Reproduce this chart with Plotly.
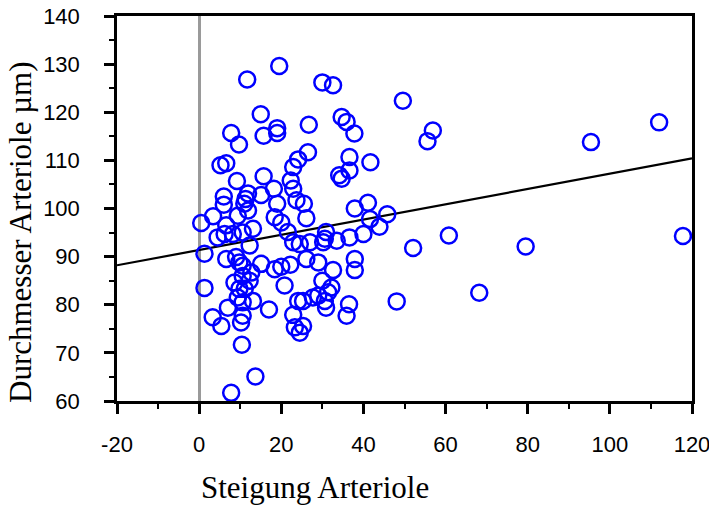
import plotly.graph_objects as go

# Scatter data: Steigung Arteriole (x) vs Durchmesser Arteriole (y)
steigung = [
    19.5, 11.7, 30.0, 32.6, 49.6, 15.0, 34.7, 35.9, 37.8, 26.7,
    19.0, 19.0, 7.8, 9.7, 15.7, 56.9, 55.6, 95.4, 112.0, 26.5,
    24.1, 22.9, 36.6, 41.7, 36.6, 34.1, 34.7, 5.2, 6.6, 9.2,
    15.7, 22.3, 22.9, 18.2, 15.1, 11.9, 11.3, 6.0, 6.0, 11.0,
    11.9, 19.0, 18.4, 23.7, 25.5, 26.1, 37.9, 41.1, 45.8, 41.6,
    43.9, 40.0, 36.6, 33.5, 30.9, 30.6, 30.2, 27.0, 22.9, 24.5,
    21.6, 20.0, 0.5, 3.4, 9.4, 6.6, 13.1, 4.5, 6.2, 8.2,
    12.3, 1.3, 6.6, 9.0, 9.8, 10.6, 15.1, 12.7, 10.6, 12.3,
    8.6, 9.8, 11.1, 1.3, 18.4, 20.0, 22.2, 20.8, 9.4, 10.6,
    13.1, 7.0, 17.0, 3.3, 5.4, 10.2, 10.6, 10.4, 13.7, 7.8,
    24.1, 22.9, 23.3, 24.5, 25.3, 25.3, 26.1, 29.0, 32.6, 37.9,
    37.9, 52.1, 60.8, 79.5, 68.2, 117.8, 30.0, 32.2, 31.4, 29.0,
    30.6, 30.9, 27.7, 36.5, 35.9, 48.1, 10.6,
]
durchmesser = [
    129.6, 126.8, 126.2, 125.6, 122.4, 119.6, 119.0, 118.0, 115.6, 117.4,
    116.7, 115.7, 115.7, 113.3, 115.1, 116.2, 114.0, 113.8, 117.9, 111.7,
    110.2, 108.6, 110.7, 109.6, 107.9, 106.9, 106.2, 109.0, 109.4, 105.7,
    106.7, 105.8, 104.1, 104.1, 102.8, 103.1, 102.0, 102.5, 100.8, 101.0,
    99.6, 101.0, 98.2, 101.7, 101.0, 98.0, 100.0, 101.2, 98.8, 97.8,
    96.2, 94.7, 94.0, 93.3, 95.1, 93.7, 93.0, 93.0, 93.0, 92.6,
    95.1, 97.1, 97.0, 98.4, 98.5, 96.5, 95.8, 94.0, 94.7, 94.7,
    92.3, 90.6, 89.5, 89.9, 88.8, 88.1, 88.5, 86.7, 86.0, 85.0,
    84.6, 83.3, 83.3, 83.5, 87.4, 87.9, 88.3, 84.0, 81.5, 80.5,
    80.8, 79.4, 79.0, 77.4, 75.6, 76.3, 77.7, 71.7, 65.1, 61.7,
    80.8, 77.9, 75.3, 74.2, 75.6, 80.8, 89.5, 88.8, 87.2, 89.5,
    87.2, 91.8, 94.4, 92.1, 82.5, 94.3, 85.0, 83.6, 82.6, 81.9,
    80.8, 79.4, 81.5, 80.1, 77.7, 80.7, 95.0,
]

# Regression line end points
fit_x = [-20, 120]
fit_y = [88.2, 110.4]

x_ticks = [-20, 0, 20, 40, 60, 80, 100, 120]
y_ticks = [60, 70, 80, 90, 100, 110, 120, 130, 140]

fig = go.Figure()
fig.add_trace(go.Scatter(
    x=fit_x, y=fit_y, mode="lines",
    line=dict(color="black", width=2.2), showlegend=False, hoverinfo="skip",
))
fig.add_trace(go.Scatter(
    x=steigung, y=durchmesser, mode="markers",
    marker=dict(symbol="circle-open", size=16, color="#0000ff",
                line=dict(width=2.5, color="#0000ff")),
    showlegend=False,
))

axis_common = dict(
    showgrid=False, showline=True, linecolor="black", linewidth=2.5,
    mirror=True, ticks="outside", ticklen=10, tickwidth=2.5, tickcolor="black",
    ticklabeloverflow="allow", automargin=False,
    tickfont=dict(family="Liberation Sans, Arial, sans-serif", size=22, color="black"),
)

fig.update_xaxes(
    range=[-20, 120], tickvals=x_ticks, ticktext=[str(v) for v in x_ticks],
    zeroline=True, zerolinecolor="#9a9a9a", zerolinewidth=3,
    ticklabelstandoff=12,
    minor=dict(ticks="outside", ticklen=5, tickwidth=2, tickcolor="black", dtick=10),
    **axis_common,
)
fig.update_yaxes(
    range=[60, 140], tickvals=y_ticks, ticktext=[str(v) for v in y_ticks],
    zeroline=False,
    ticklabelstandoff=20,
    minor=dict(ticks="outside", ticklen=5, tickwidth=2, tickcolor="black", dtick=5),
    **axis_common,
)

fig.update_layout(
    width=709, height=505,
    margin=dict(l=117, r=17, t=16, b=104),
    paper_bgcolor="white", plot_bgcolor="white",
    annotations=[
        dict(text="Steigung Arteriole", xref="paper", yref="paper",
             x=0.344, y=-0.224, xanchor="center", yanchor="middle",
             showarrow=False,
             font=dict(family="Liberation Serif, Times New Roman, serif", size=31, color="black")),
        dict(text="Durchmesser Arteriole µm)", xref="paper", yref="paper",
             x=-0.168, y=0.44, xanchor="center", yanchor="middle",
             textangle=-90, showarrow=False,
             font=dict(family="Liberation Serif, Times New Roman, serif", size=31, color="black")),
    ],
)

fig.write_html("out.html")
